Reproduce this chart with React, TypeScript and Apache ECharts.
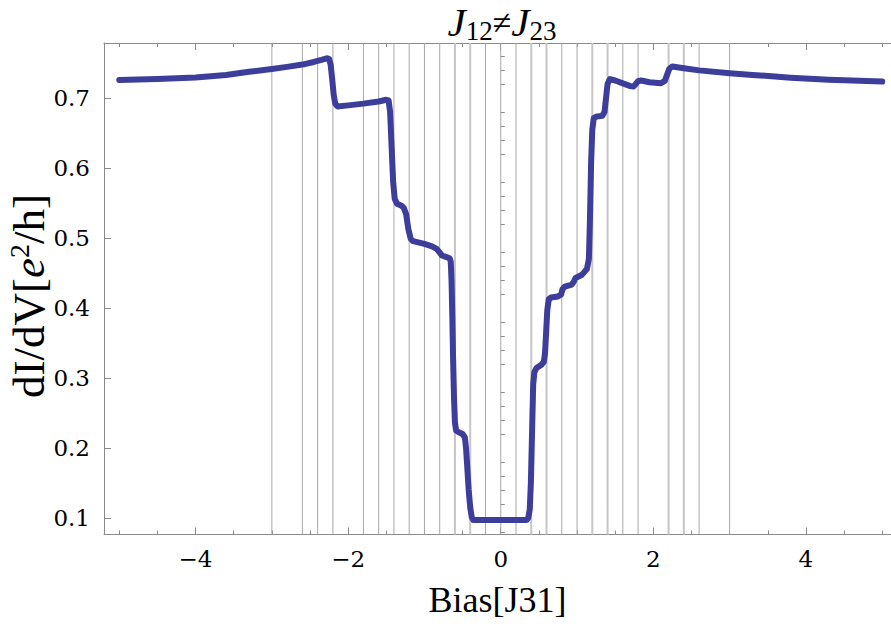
import React, { useEffect, useRef } from "react";
import * as echarts from "echarts";

// ---- data ----
const biasValues = [
  -5.0, -4.5, -4.0, -3.6, -3.3, -3.0, -2.8, -2.6, -2.45, -2.35, -2.28, -2.25, -2.23, -2.21, -2.19, -2.17, -2.14,
  -2.0, -1.8, -1.6, -1.5, -1.47, -1.45, -1.43, -1.41, -1.39, -1.36, -1.3, -1.27, -1.24, -1.21, -1.18, -1.15,
  -1.0, -0.9, -0.84, -0.8, -0.77, -0.72, -0.67, -0.655, -0.645, -0.635, -0.625, -0.612, -0.6, -0.585, -0.55,
  -0.5, -0.47, -0.455, -0.44, -0.42, -0.4, -0.38, -0.36, 0.34, 0.36, 0.38, 0.395, 0.41, 0.425, 0.44, 0.47,
  0.53, 0.565, 0.58, 0.595, 0.61, 0.63, 0.66, 0.75, 0.79, 0.81, 0.84, 0.93, 0.96, 0.98, 1.06, 1.1, 1.13,
  1.155, 1.17, 1.185, 1.2, 1.22, 1.26, 1.33, 1.36, 1.38, 1.4, 1.43, 1.5, 1.6, 1.7, 1.74, 1.77, 1.8, 1.84,
  1.95, 2.1, 2.15, 2.18, 2.21, 2.25, 2.4, 2.6, 3.0, 3.3, 3.8, 4.3, 5.0,
];
const conductanceValues = [
  0.7257, 0.7272, 0.7292, 0.733, 0.7375, 0.7415, 0.7445, 0.7478, 0.7515, 0.7545, 0.7568, 0.756, 0.748, 0.728,
  0.705, 0.692, 0.688, 0.6895, 0.692, 0.695, 0.6975, 0.6965, 0.68, 0.63, 0.58, 0.556, 0.549, 0.546, 0.543,
  0.534, 0.512, 0.499, 0.4955, 0.4915, 0.488, 0.4845, 0.479, 0.475, 0.473, 0.471, 0.466, 0.44, 0.39, 0.33,
  0.27, 0.236, 0.225, 0.2225, 0.22, 0.215, 0.2, 0.175, 0.14, 0.115, 0.101, 0.0972, 0.0972, 0.1, 0.112, 0.15,
  0.22, 0.29, 0.308, 0.3145, 0.3185, 0.323, 0.335, 0.365, 0.397, 0.4125, 0.415, 0.4165, 0.419, 0.427, 0.4305,
  0.4335, 0.438, 0.443, 0.447, 0.452, 0.456, 0.47, 0.53, 0.61, 0.655, 0.6715, 0.6735, 0.6745, 0.68, 0.7, 0.72,
  0.727, 0.725, 0.721, 0.717, 0.7165, 0.72, 0.724, 0.725, 0.7225, 0.721, 0.7245, 0.733, 0.742, 0.745, 0.7425,
  0.7395, 0.7355, 0.733, 0.729, 0.7262, 0.7235,
];
const resonanceLines = [-3, -2.6, -2.4, -2.2, -1.8, -1.6, -1.4, -1.2, -1.0, -0.8, -0.2, 0, 0.2, 0.8, 1.0, 1.6, 1.8, 2.6, 3.0];
const doubledLines = [-0.6, -0.4, 0.4, 0.6, 1.2, 1.4, 2.2, 2.4];
const xTickLabels = [-4, -2, 0, 2, 4];
const xMinorTicks = [-5, -4.5, -3.5, -3, -2.5, -1.5, -1, -0.5, 0.5, 1, 1.5, 2.5, 3, 3.5, 4.5, 5];
const yTickLabels = [0.1, 0.2, 0.3, 0.4, 0.5, 0.6, 0.7];
const yMinorTicks = [
  0.08, 0.12, 0.14, 0.16, 0.18, 0.22, 0.24, 0.26, 0.28, 0.32, 0.34, 0.36, 0.38, 0.42, 0.44, 0.46, 0.48, 0.52,
  0.54, 0.56, 0.58, 0.62, 0.64, 0.66, 0.68, 0.72, 0.74, 0.76,
];

const FONT = "Liberation Serif";
const TICK_FONT = "DejaVu Serif";
const FRAME = "#8a8a8a";
const X_MIN = -5.2;
const X_MAX = 5.115;
const Y_MIN = 0.0764;
const Y_MAX = 0.7786;

export default function App() {
  const ref = useRef<HTMLDivElement>(null);

  useEffect(() => {
    if (!ref.current) return;
    const chart = echarts.init(ref.current, undefined, { renderer: "svg" });

    const curve = biasValues.map((x, i) => [x, conductanceValues[i]]);
    const verticals = (xs: number[]) => {
      const out: any[] = [];
      xs.forEach((x) => {
        out.push([x, Y_MIN], [x, Y_MAX], [x, "-"]);
      });
      return out;
    };

    const xBase = {
      type: "value",
      min: X_MIN,
      max: X_MAX,
      splitLine: { show: false },
      gridIndex: 0,
    };
    const yBase = {
      type: "value",
      min: Y_MIN,
      max: Y_MAX,
      splitLine: { show: false },
      gridIndex: 0,
    };

    const option: any = {
      animation: false,
      backgroundColor: "#ffffff",
      grid: { left: 104, top: 43, right: 0, bottom: 89.5, containLabel: false, outerBoundsMode: "none" },
      graphic: [
        {
          type: "text",
          x: 502,
          y: 22,
          style: {
            text: "{j|J}{s|12}{n|≠}{j|J}{s|23}",
            align: "center",
            verticalAlign: "middle",
            fill: "#000",
            rich: {
              j: { fontFamily: FONT, fontStyle: "italic", fontSize: 41, lineHeight: 44, fill: "#000" },
              s: { fontFamily: FONT, fontSize: 27, lineHeight: 22, verticalAlign: "bottom", fill: "#000" },
              n: { fontFamily: FONT, fontSize: 34, lineHeight: 44, fill: "#000" },
            },
          },
        },
        {
          type: "text",
          x: 29,
          y: 296,
          rotation: Math.PI / 2,
          style: {
            text: "{n|dI/dV[}{i|e}{p|2}{n|/h]}",
            align: "center",
            verticalAlign: "middle",
            fill: "#000",
            rich: {
              n: { fontFamily: FONT, fontSize: 45, lineHeight: 48, fill: "#000" },
              i: { fontFamily: FONT, fontSize: 45, fontStyle: "italic", lineHeight: 48, fill: "#000" },
              p: { fontFamily: FONT, fontSize: 28, lineHeight: 26, verticalAlign: "top", fill: "#000" },
            },
          },
        },
      ],
      xAxis: [
        {
          ...xBase,
          position: "bottom",
          axisLine: { show: true, onZero: false, lineStyle: { color: FRAME, width: 1 } },
          axisTick: { show: true, inside: true, length: 7, customValues: xTickLabels, lineStyle: { color: FRAME } },
          axisLabel: {
            show: true,
            customValues: xTickLabels,
            formatter: (v: number) => (v < 0 ? "\u2212" + Math.abs(v) : String(v)),
            fontFamily: TICK_FONT,
            fontSize: 23,
            color: "#000",
            margin: 13,
          },
          name: "Bias[J31]",
          nameLocation: "middle",
          nameGap: 47,
          nameTextStyle: { fontFamily: FONT, fontSize: 36, color: "#000" },
        },
        {
          ...xBase,
          position: "bottom",
          axisLine: { show: false },
          axisTick: { show: true, inside: true, length: 4, customValues: xMinorTicks, lineStyle: { color: FRAME } },
          axisLabel: { show: false },
        },
        {
          ...xBase,
          position: "top",
          axisLine: { show: true, onZero: false, lineStyle: { color: FRAME, width: 1 } },
          axisTick: { show: true, inside: true, length: 7, customValues: xTickLabels, lineStyle: { color: FRAME } },
          axisLabel: { show: false },
        },
        {
          ...xBase,
          position: "top",
          axisLine: { show: false },
          axisTick: { show: true, inside: true, length: 4, customValues: xMinorTicks, lineStyle: { color: FRAME } },
          axisLabel: { show: false },
        },
      ],
      yAxis: [
        {
          ...yBase,
          position: "left",
          axisLine: { show: true, onZero: false, lineStyle: { color: FRAME, width: 1 } },
          axisTick: { show: true, inside: true, length: 7, customValues: yTickLabels, lineStyle: { color: FRAME } },
          axisLabel: {
            show: true,
            customValues: yTickLabels,
            formatter: (v: number) => v.toFixed(1),
            fontFamily: TICK_FONT,
            fontSize: 23,
            color: "#000",
            margin: 14,
          },
        },
        {
          ...yBase,
          position: "left",
          axisLine: { show: false },
          axisTick: { show: true, inside: true, length: 4, customValues: yMinorTicks, lineStyle: { color: FRAME } },
          axisLabel: { show: false },
        },
      ],
      series: [
        {
          type: "line",
          xAxisIndex: 0,
          yAxisIndex: 0,
          data: verticals(resonanceLines),
          z: 1,
          silent: true,
          symbol: "none",
          connectNulls: false,
          lineStyle: { color: "#a8a8a8", width: 1 },
        },
        {
          type: "line",
          xAxisIndex: 0,
          yAxisIndex: 0,
          data: verticals(doubledLines),
          z: 1,
          silent: true,
          symbol: "none",
          connectNulls: false,
          lineStyle: { color: "#c6c6c6", width: 2 },
        },
        {
          type: "line",
          xAxisIndex: 0,
          yAxisIndex: 0,
          data: curve,
          z: 3,
          symbol: "none",
          smooth: false,
          clip: true,
          lineStyle: { color: "#3d3d9b", width: 6, cap: "round", join: "round" },
        },
      ],
    };

    chart.setOption(option);
    return () => chart.dispose();
  }, []);

  return <div ref={ref} style={{ width: 891, height: 624, position: "absolute", left: 0, top: 0 }} />;
}
